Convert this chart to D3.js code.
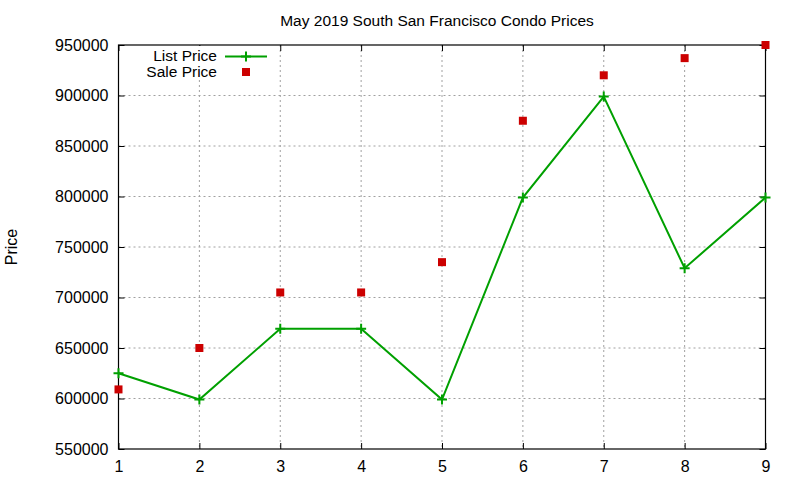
<!DOCTYPE html>
<html>
<head>
<meta charset="utf-8">
<script src="https://cdn.jsdelivr.net/npm/d3@7"></script>
<style>
  body { margin: 0; background: #fff; }
  text { font-family: "Liberation Sans", Arial, sans-serif; fill: #000; }
</style>
</head>
<body>
<svg width="800" height="480"></svg>
<script>
const svg = d3.select("svg");
const margin = { top: 45, right: 34.5, bottom: 31, left: 118.5 };
const width = 800 - margin.left - margin.right;
const height = 480 - margin.top - margin.bottom;

// Data
const months = [1, 2, 3, 4, 5, 6, 7, 8, 9];
const listPrice = [625000, 599000, 669000, 669000, 599000, 799000, 899000, 729000, 799000];
const salePrice = [609000, 650000, 705000, 705000, 735000, 875000, 920000, 937000, 950000];
const yTicks = [550000, 600000, 650000, 700000, 750000, 800000, 850000, 900000, 950000];

const green = "#00a000";
const red = "#cc0000";

const chart = svg.append("g")
    .attr("transform", `translate(${margin.left},${margin.top})`);

const x = d3.scaleLinear().domain([1, 9]).range([0, width]);
const y = d3.scaleLinear().domain([550000, 950000]).range([height, 0]);

// Grid
chart.append("g")
  .selectAll("line")
  .data(months.slice(1, -1))
  .enter().append("line")
    .attr("x1", d => x(d)).attr("x2", d => x(d))
    .attr("y1", 0).attr("y2", height)
    .attr("stroke", "#a0a0a0").attr("stroke-dasharray", "2,3");

chart.append("g")
  .selectAll("line")
  .data(yTicks.slice(1, -1))
  .enter().append("line")
    .attr("y1", d => y(d)).attr("y2", d => y(d))
    .attr("x1", 0).attr("x2", width)
    .attr("stroke", "#a0a0a0").attr("stroke-dasharray", "2,3");

// Axes with inward ticks, mirrored on top and right
const tickLen = 6;
const styleAxis = g => {
  g.select(".domain").remove();
  g.selectAll(".tick line").attr("stroke", "#000");
  g.selectAll("text").style("font-size", "16px").attr("fill", "#000");
};

chart.append("g")
    .attr("transform", `translate(0,${height})`)
    .call(d3.axisBottom(x).tickValues(months).tickFormat(d3.format("d"))
      .tickSizeInner(-tickLen).tickSizeOuter(0).tickPadding(12))
    .call(styleAxis);

chart.append("g")
    .call(d3.axisTop(x).tickValues(months).tickFormat("")
      .tickSizeInner(-tickLen).tickSizeOuter(0))
    .call(styleAxis);

chart.append("g")
    .call(d3.axisLeft(y).tickValues(yTicks).tickFormat(d3.format("d"))
      .tickSizeInner(-tickLen).tickSizeOuter(0).tickPadding(10))
    .call(styleAxis);

chart.append("g")
    .attr("transform", `translate(${width},0)`)
    .call(d3.axisRight(y).tickValues(yTicks).tickFormat("")
      .tickSizeInner(-tickLen).tickSizeOuter(0))
    .call(styleAxis);

// Opaque key box
chart.append("rect")
    .attr("x", 3).attr("y", 1)
    .attr("width", 152).attr("height", 34)
    .attr("fill", "#fff");

// Border
chart.append("rect")
    .attr("width", width).attr("height", height)
    .attr("fill", "none").attr("stroke", "#000").attr("stroke-width", 1.2);

// List price line
const line = d3.line()
    .x((d, i) => x(months[i]))
    .y(d => y(d));

chart.append("path")
    .datum(listPrice)
    .attr("d", line)
    .attr("fill", "none")
    .attr("stroke", green)
    .attr("stroke-width", 2);

const plus = (g, cx, cy) => {
  g.append("path")
    .attr("d", `M${cx - 5},${cy}H${cx + 5}M${cx},${cy - 5}V${cy + 5}`)
    .attr("stroke", green).attr("stroke-width", 2);
};

listPrice.forEach((d, i) => plus(chart, x(months[i]), y(d)));

// Sale price points
chart.selectAll(".sale")
    .data(salePrice)
    .enter().append("rect")
    .attr("class", "sale")
    .attr("x", (d, i) => x(months[i]) - 4)
    .attr("y", d => y(d) - 4)
    .attr("width", 8).attr("height", 8)
    .attr("fill", red);

// Legend
const key = svg.append("g");
key.append("text")
    .attr("x", 217).attr("y", 61)
    .attr("text-anchor", "end")
    .style("font-size", "15.5px")
    .text("List Price");
key.append("line")
    .attr("x1", 225).attr("x2", 267)
    .attr("y1", 56.5).attr("y2", 56.5)
    .attr("stroke", green).attr("stroke-width", 2);
plus(key, 246, 56.5);

key.append("text")
    .attr("x", 217).attr("y", 76.5)
    .attr("text-anchor", "end")
    .style("font-size", "15.5px")
    .text("Sale Price");
key.append("rect")
    .attr("x", 242).attr("y", 68)
    .attr("width", 8).attr("height", 8)
    .attr("fill", red);

// Title
svg.append("text")
    .attr("x", 437).attr("y", 26)
    .attr("text-anchor", "middle")
    .style("font-size", "15.5px")
    .text("May 2019 South San Francisco Condo Prices");

// Y axis label
svg.append("text")
    .attr("transform", "translate(17,247) rotate(-90)")
    .attr("text-anchor", "middle")
    .style("font-size", "16px")
    .text("Price");
</script>
</body>
</html>
